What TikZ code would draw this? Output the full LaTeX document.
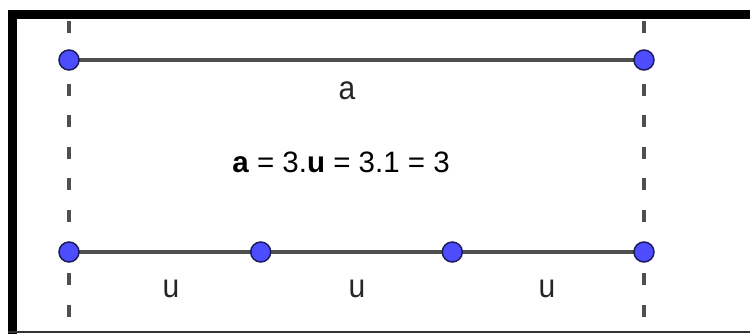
\documentclass[tikz,border=0pt]{standalone}
\usepackage{fontspec}
\setmainfont{Liberation Sans}
\usetikzlibrary{backgrounds}
\definecolor{ptblue}{HTML}{4D4DFF}
\definecolor{ptedge}{HTML}{1C1C5A}
\definecolor{seggray}{HTML}{4F4F4F}
\tikzset{
  pt/.style={circle, fill=ptblue, draw=ptedge, line width=1.5pt, minimum size=20pt, inner sep=0pt},
  seg/.style={draw=seggray, line width=4pt},
  guide/.style={draw=seggray, line width=4pt, dash pattern=on 12pt off 19.5pt, dash phase=-8pt},
  lbl/.style={anchor=base, inner sep=0pt, font=\fontsize{30}{32}\selectfont, text=black!85},
  frame/.style={fill=black}
}
\begin{document}
\begin{tikzpicture}[x=1pt, y=-1pt]
\useasboundingbox (0,0) rectangle (750,334);
% points
\node[pt] (A) at (69,60) {};
\node[pt] (B) at (644,60) {};
\node[pt] (P0) at (69,252) {};
\node[pt] (P1) at (260.7,252) {};
\node[pt] (P2) at (452.3,252) {};
\node[pt] (P3) at (644,252) {};
\coordinate (L1) at (69,13);
\coordinate (L2) at (69,330.5);
\coordinate (R1) at (644,13);
\coordinate (R2) at (644,330.5);
\begin{scope}[on background layer]
  \fill[white] (0,0) rectangle (750,334);
  \path[guide] (L1) -- (L2);
  \path[guide] (R1) -- (R2);
  \path[seg] (A.center) -- (B.center);
  \path[seg] (P0.center) -- (P1.center) -- (P2.center) -- (P3.center);
\end{scope}
% frame
\fill[frame] (8,10) rectangle (17,334);
\fill[frame] (8,10) rectangle (750,19);
\draw[black!80, line width=2.5pt] (8,332) -- (750,332);
% labels
\node[lbl, yscale=1.1] (la) at (347,100) {a};
\node[lbl, yscale=1.1] (lu1) at (171,297) {u};
\node[lbl, yscale=1.1] (lu2) at (357,297) {u};
\node[lbl, yscale=1.1] (lu3) at (547,297) {u};
\node[anchor=base, inner sep=0pt, font=\fontsize{29.5}{31}\selectfont, text=black] (f) at (341,173)
  {\textbf{a} = 3.\textbf{u} = 3.1 = 3};
\end{tikzpicture}
\end{document}
